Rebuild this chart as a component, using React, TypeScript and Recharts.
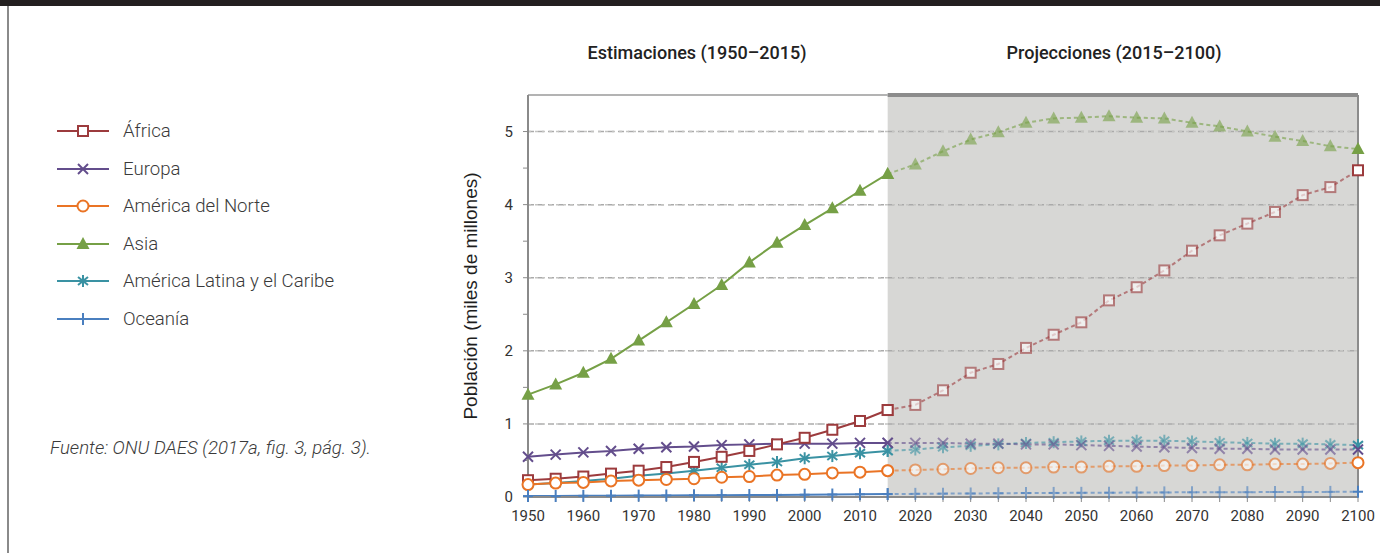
import React from "react";
import { LineChart, Line, XAxis, YAxis, ReferenceArea, ReferenceLine } from "recharts";

// años (cada 5) y series en miles de millones
const years = [1950, 1955, 1960, 1965, 1970, 1975, 1980, 1985, 1990, 1995, 2000, 2005, 2010, 2015,
  2020, 2025, 2030, 2035, 2040, 2045, 2050, 2055, 2060, 2065, 2070, 2075, 2080, 2085, 2090, 2095, 2100];
const splitYear = 2015;
const yTicks = [0, 0.5, 1, 1.5, 2, 2.5, 3, 3.5, 4, 4.5, 5];
const gridValues = [1, 2, 3, 4, 5];

// estimaciones 1950–2015
const africaEst = [0.23, 0.25, 0.28, 0.32, 0.36, 0.41, 0.48, 0.55, 0.63, 0.72, 0.81, 0.92, 1.04, 1.19];
const europaEst = [0.55, 0.58, 0.61, 0.63, 0.66, 0.68, 0.69, 0.71, 0.72, 0.73, 0.73, 0.73, 0.74, 0.74];
const norteEst = [0.17, 0.19, 0.2, 0.22, 0.23, 0.24, 0.25, 0.27, 0.28, 0.3, 0.31, 0.33, 0.34, 0.36];
const asiaEst = [1.4, 1.54, 1.7, 1.89, 2.14, 2.39, 2.64, 2.9, 3.21, 3.48, 3.72, 3.95, 4.19, 4.42];
const latamEst = [0.17, 0.19, 0.22, 0.25, 0.29, 0.32, 0.36, 0.4, 0.44, 0.48, 0.53, 0.56, 0.6, 0.63];
const oceaniaEst = [0.013, 0.014, 0.016, 0.018, 0.019, 0.021, 0.023, 0.025, 0.027, 0.029, 0.031, 0.034, 0.037, 0.04];

// proyecciones 2015–2100
const africaProj = [1.19, 1.26, 1.46, 1.7, 1.82, 2.04, 2.22, 2.39, 2.69, 2.87, 3.1, 3.37, 3.58, 3.74, 3.9, 4.13, 4.24, 4.47];
const europaProj = [0.74, 0.74, 0.74, 0.73, 0.73, 0.72, 0.72, 0.71, 0.7, 0.69, 0.68, 0.67, 0.66, 0.66, 0.65, 0.65, 0.65, 0.65];
const norteProj = [0.36, 0.37, 0.38, 0.39, 0.4, 0.4, 0.41, 0.41, 0.42, 0.42, 0.43, 0.43, 0.44, 0.44, 0.45, 0.45, 0.46, 0.47];
const asiaProj = [4.42, 4.55, 4.73, 4.89, 4.99, 5.12, 5.18, 5.19, 5.21, 5.19, 5.18, 5.12, 5.07, 5.0, 4.93, 4.87, 4.8, 4.76];
const latamProj = [0.63, 0.65, 0.68, 0.7, 0.72, 0.74, 0.75, 0.76, 0.77, 0.77, 0.77, 0.76, 0.75, 0.74, 0.73, 0.73, 0.72, 0.71];
const oceaniaProj = [0.04, 0.043, 0.046, 0.048, 0.051, 0.054, 0.056, 0.057, 0.059, 0.061, 0.063, 0.064, 0.065, 0.066, 0.068, 0.069, 0.07, 0.072];

type Shape = "square" | "cross" | "circle" | "triangle" | "asterisk" | "plus";

const series: { key: string; name: string; color: string; shape: Shape; est: number[]; proj: number[] }[] = [
  { key: "africa", name: "África", color: "#9c3b3d", shape: "square", est: africaEst, proj: africaProj },
  { key: "europa", name: "Europa", color: "#634d8c", shape: "cross", est: europaEst, proj: europaProj },
  { key: "norte", name: "América del Norte", color: "#ea7425", shape: "circle", est: norteEst, proj: norteProj },
  { key: "asia", name: "Asia", color: "#76a046", shape: "triangle", est: asiaEst, proj: asiaProj },
  { key: "latam", name: "América Latina y el Caribe", color: "#3a92a3", shape: "asterisk", est: latamEst, proj: latamProj },
  { key: "oceania", name: "Oceanía", color: "#4a7fbf", shape: "plus", est: oceaniaEst, proj: oceaniaProj },
];

// orden de dibujo
const drawOrder = ["latam", "europa", "africa", "norte", "oceania", "asia"];

const data = years.map((year) => {
  const row: Record<string, number | undefined> = { year };
  series.forEach((s) => {
    const ei = years.indexOf(year);
    if (year <= splitYear) row[s.key + "Est"] = s.est[ei];
    if (year >= splitYear) row[s.key + "Proj"] = s.proj[ei - years.indexOf(splitYear)];
  });
  return row;
});

function Marker({ shape, x, y, color }: { shape: Shape; x: number; y: number; color: string }) {
  const sw = 2;
  switch (shape) {
    case "square":
      return <rect x={x - 5} y={y - 5} width={10} height={10} fill="#fff" stroke={color} strokeWidth={sw} />;
    case "cross":
      return (
        <g stroke={color} strokeWidth={sw}>
          <line x1={x - 5} y1={y - 5} x2={x + 5} y2={y + 5} />
          <line x1={x - 5} y1={y + 5} x2={x + 5} y2={y - 5} />
        </g>
      );
    case "circle":
      return <circle cx={x} cy={y} r={5.5} fill="#fff" stroke={color} strokeWidth={sw} />;
    case "triangle":
      return <polygon points={`${x},${y - 7} ${x - 6.5},${y + 5} ${x + 6.5},${y + 5}`} fill={color} />;
    case "asterisk":
      return (
        <g stroke={color} strokeWidth={sw}>
          <line x1={x} y1={y - 6} x2={x} y2={y + 6} />
          <line x1={x - 5} y1={y - 4} x2={x + 5} y2={y + 4} />
          <line x1={x - 5} y1={y + 4} x2={x + 5} y2={y - 4} />
        </g>
      );
    default:
      return (
        <g stroke={color} strokeWidth={sw}>
          <line x1={x} y1={y - 6} x2={x} y2={y + 6} />
          <line x1={x - 5} y1={y} x2={x + 5} y2={y} />
        </g>
      );
  }
}

const makeDot = (shape: Shape, color: string, faded: boolean) => (props: any) => {
  const { cx, cy, index, payload } = props;
  if (cx == null || cy == null || payload == null) return <g key={`e-${index}`} />;
  const crisp = !faded || payload.year === 2100;
  return (
    <g key={`d-${index}`} opacity={crisp ? 1 : 0.6}>
      <Marker shape={shape} x={cx} y={cy} color={color} />
    </g>
  );
};

const font = "Roboto, 'Noto Sans', sans-serif";

export default function App() {
  const ordered = drawOrder.map((k) => series.find((s) => s.key === k)!);
  return (
    <div style={{ position: "fixed", left: 0, top: 0, width: 1380, height: 553, background: "#fff", fontFamily: font, overflow: "hidden" }}>
      <div style={{ position: "absolute", left: 0, top: 0, width: 1380, height: 6, background: "#231f20" }} />
      <div style={{ position: "absolute", left: 7, top: 6, width: 2, height: 547, background: "#8a8a8a" }} />

      {/* leyenda */}
      {series.map((s, i) => (
        <div key={s.key} style={{ position: "absolute", left: 57, top: 131 + i * 37.6 - 12, height: 24, display: "flex", alignItems: "center" }}>
          <svg width={52} height={20}>
            <line x1={0} y1={10} x2={52} y2={10} stroke={s.color} strokeWidth={2} />
            <Marker shape={s.shape} x={26} y={10} color={s.color} />
          </svg>
          <span style={{ marginLeft: 14, fontSize: 18.6, fontWeight: 300, color: "#3a3a3a", whiteSpace: "nowrap" }}>{s.name}</span>
        </div>
      ))}

      <div style={{ position: "absolute", left: 50, top: 437, fontSize: 18.6, fontWeight: 300, fontStyle: "italic", color: "#3a3a3a", whiteSpace: "nowrap" }}>
        Fuente: ONU DAES (2017a, fig. 3, pág. 3).
      </div>

      <div style={{ position: "absolute", left: 697, top: 42, transform: "translateX(-50%)", fontSize: 18, fontWeight: 500, color: "#222", whiteSpace: "nowrap" }}>
        Estimaciones (1950–2015)
      </div>
      <div style={{ position: "absolute", left: 1114, top: 42, transform: "translateX(-50%)", fontSize: 18, fontWeight: 500, color: "#222", whiteSpace: "nowrap" }}>
        Projecciones (2015–2100)
      </div>

      <div style={{ position: "absolute", left: 0, top: 0 }}>
        <LineChart width={1380} height={553} data={data} margin={{ top: 95, right: 22, bottom: 26, left: 468 }}>
          <ReferenceArea x1={splitYear} x2={2100} y1={0} y2={5.5} fill="#d7d7d5" fillOpacity={1} stroke="none" />
          {gridValues.map((v) => (
            <ReferenceLine key={v} y={v} stroke="#aaaaaa" strokeWidth={1.5} strokeDasharray="6 4"
              segment={[{ x: 1950, y: v }, { x: splitYear, y: v }]} />
          ))}
          {gridValues.map((v) => (
            <ReferenceLine key={"p" + v} y={v} stroke="#c4c4c2" strokeWidth={1.5} strokeDasharray="3 4"
              segment={[{ x: splitYear, y: v }, { x: 2100, y: v }]} />
          ))}
          <ReferenceLine segment={[{ x: 1950, y: 5.5 }, { x: splitYear, y: 5.5 }]} stroke="#9a9a9a" strokeWidth={1.5} />
          <ReferenceLine segment={[{ x: splitYear, y: 5.5 }, { x: 2100, y: 5.5 }]} stroke="#8c8c8c" strokeWidth={4} />
          <ReferenceLine x={2100} stroke="#8c8c8c" strokeWidth={2} />
          <XAxis
            dataKey="year"
            type="number"
            domain={[1950, 2100]}
            ticks={years}
            interval={0}
            tickFormatter={(v: number) => (v % 10 === 0 ? String(v) : "")}
            tick={{ fontSize: 15, fill: "#333", fontFamily: font }}
            tickSize={5}
            tickMargin={8}
            stroke="#8a8a8a"
            axisLine={{ stroke: "#8a8a8a", strokeWidth: 2 }}
            tickLine={{ stroke: "#8a8a8a" }}
            height={30}
          />
          <YAxis
            type="number"
            domain={[0, 5.5]}
            ticks={yTicks}
            interval={0}
            tickFormatter={(v: number) => (Number.isInteger(v) ? String(v) : "")}
            tick={{ fontSize: 15, fill: "#333", fontFamily: font }}
            tickSize={5}
            tickMargin={10}
            axisLine={{ stroke: "#8a8a8a", strokeWidth: 2 }}
            tickLine={{ stroke: "#8a8a8a" }}
            width={60}
            label={{
              value: "Población (miles de millones)",
              angle: -90,
              position: "insideLeft",
              dx: -3,
              style: { fontSize: 19, fontWeight: 500, fill: "#1e1e1e", fontFamily: "'Liberation Sans', Arial, sans-serif", textAnchor: "middle" },
            }}
          />
          {ordered.map((s) => (
            <Line
              key={s.key + "Proj"}
              dataKey={s.key + "Proj"}
              stroke={s.color}
              strokeOpacity={0.6}
              strokeWidth={2}
              strokeDasharray="4 3"
              dot={makeDot(s.shape, s.color, true)}
              activeDot={false}
              isAnimationActive={false}
              connectNulls={false}
            />
          ))}
          {ordered.map((s) => (
            <Line
              key={s.key + "Est"}
              dataKey={s.key + "Est"}
              stroke={s.color}
              strokeWidth={2}
              dot={makeDot(s.shape, s.color, false)}
              activeDot={false}
              isAnimationActive={false}
              connectNulls={false}
            />
          ))}
        </LineChart>
      </div>
    </div>
  );
}
